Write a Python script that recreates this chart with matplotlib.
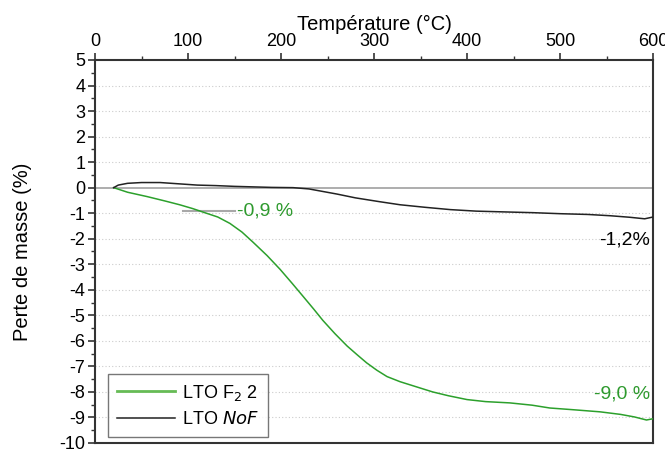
import matplotlib
matplotlib.use("Agg")
import matplotlib.pyplot as plt
from matplotlib.ticker import MultipleLocator

plt.rcParams['font.family'] = ['Liberation Sans', 'DejaVu Sans']
plt.rcParams['axes.unicode_minus'] = False

# LTO F2 2
temp_f2 = [20, 35, 56, 75, 91, 105, 118, 132, 145, 158, 170, 185, 199, 212, 224, 235, 245,
           258, 271, 282, 292, 303, 314, 328, 349, 363, 380, 400, 420, 446, 470, 489,
           515, 543, 565, 580, 593, 600]
mass_f2 = [0.0, -0.18, -0.35, -0.52, -0.67, -0.82, -0.98, -1.15, -1.4, -1.74, -2.14, -2.66,
           -3.2, -3.75, -4.27, -4.75, -5.2, -5.72, -6.2, -6.55, -6.86, -7.15, -7.4, -7.6,
           -7.84, -8.0, -8.15, -8.3, -8.38, -8.43, -8.52, -8.63, -8.7, -8.78, -8.88, -8.98,
           -9.1, -9.05]

# LTO NoF
temp_nof = [20, 25, 35, 50, 70, 90, 110, 130, 150, 170, 190, 213, 230, 245, 260, 280, 306,
            328, 355, 382, 410, 440, 471, 500, 530, 554, 575, 591, 600]
mass_nof = [0.0, 0.1, 0.17, 0.2, 0.2, 0.15, 0.1, 0.08, 0.05, 0.03, 0.01, 0.0, -0.05, -0.15,
            -0.25, -0.4, -0.55, -0.67, -0.77, -0.86, -0.92, -0.95, -0.98, -1.02, -1.05, -1.1,
            -1.16, -1.22, -1.15]

green = '#2ca02c'
text_green = '#2e9a2e'

fig = plt.figure(figsize=(6.65, 4.5), dpi=100)
ax = fig.add_axes([0.1429, 0.0156, 0.982 - 0.1429, 0.8667 - 0.0156])

ax.axhline(0, color='#a0a0a0', lw=1.2, zorder=1)
l1, = ax.plot(temp_f2, mass_f2, color=green, lw=1.1, label=r'LTO F$_2$ 2', zorder=3)
l2, = ax.plot(temp_nof, mass_nof, color='#222222', lw=1.1, label=r'LTO $\it{NoF}$', zorder=3)

ax.plot([95, 150], [-0.9, -0.9], color='#a8a8a8', lw=1.5, zorder=2)
ax.text(153, -0.9, '-0,9 %', color=text_green, fontsize=14, va='center', ha='left')
ax.text(597, -2.05, '-1,2%', color='black', fontsize=14, va='center', ha='right')
ax.text(597, -8.1, '-9,0 %', color=text_green, fontsize=14, va='center', ha='right')

ax.set_xlim(0, 600)
ax.set_ylim(-10, 5)
ax.xaxis.set_ticks_position('top')
ax.xaxis.set_label_position('top')
ax.xaxis.set_major_locator(MultipleLocator(100))
ax.xaxis.set_minor_locator(MultipleLocator(50))
ax.yaxis.set_major_locator(MultipleLocator(1))
ax.yaxis.set_minor_locator(MultipleLocator(0.5))
ax.tick_params(which='major', direction='out', length=5, width=1.2, color='#333333',
               labelsize=13, pad=2)
ax.tick_params(which='minor', direction='out', length=3, width=1.0, color='#333333')
ax.set_xlabel('Température (°C)', fontsize=14.5, labelpad=2)
ax.set_ylabel('Perte de masse (%)', fontsize=14.5, labelpad=20)

for yv in range(-9, 5):
    if yv != 0:
        ax.axhline(yv, color='#cccccc', lw=0.8, ls=(0, (1, 2)), zorder=0)

for s in ax.spines.values():
    s.set_color('#333333')
    s.set_linewidth(1.5)

leg = ax.legend(handles=[l1, l2], loc='lower left', bbox_to_anchor=(0.023, 0.016),
                borderaxespad=0, fontsize=13, frameon=True, fancybox=False,
                handlelength=3.2, borderpad=0.5, labelspacing=0.45, handletextpad=0.4)
leg.get_frame().set_edgecolor('#555555')
leg.get_frame().set_linewidth(1.0)
leg.get_lines()[0].set_color('#66bb55')
leg.get_lines()[0].set_linewidth(2)

fig.savefig('out.png', dpi=100)
